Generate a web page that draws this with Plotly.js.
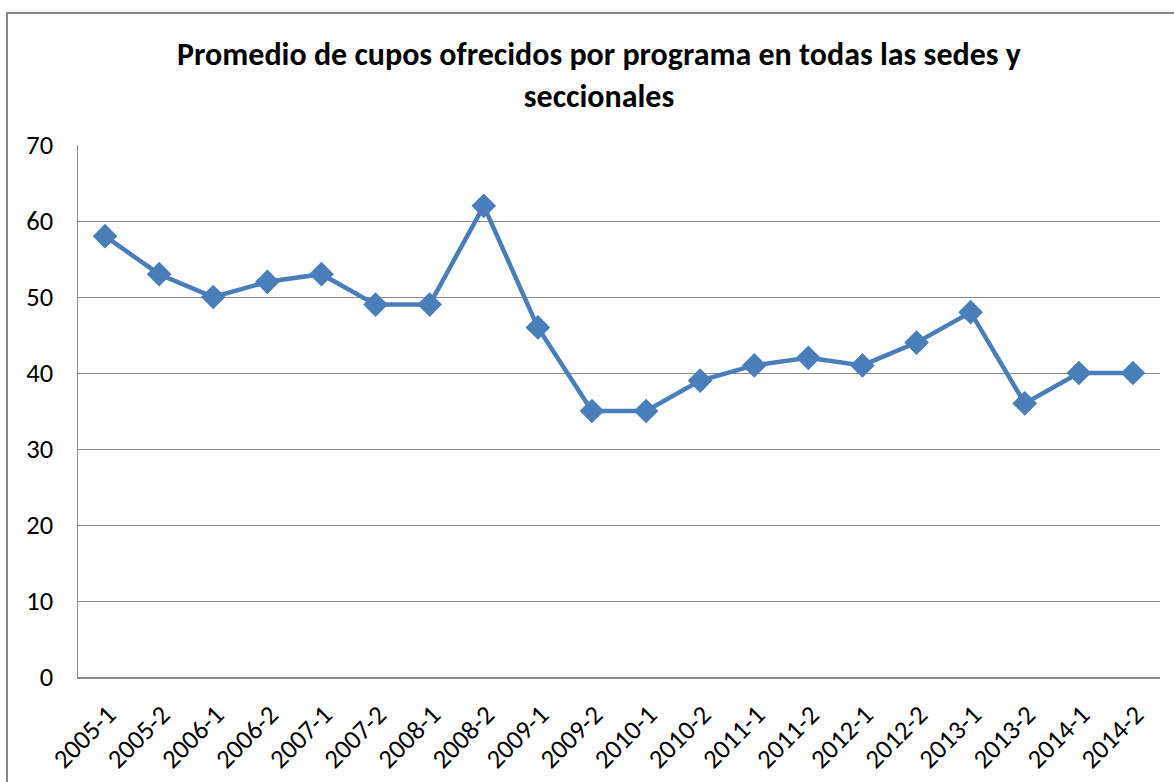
<!DOCTYPE html>
<html><head><meta charset="utf-8">
<script src="https://cdn.plot.ly/plotly-3.0.1.min.js"></script>
<style>html,body{margin:0;padding:0;background:#fff;}#chart{width:1174px;height:782px;}</style>
</head><body><div id="chart"></div>
<script>
const categories = ["2005-1","2005-2","2006-1","2006-2","2007-1","2007-2","2008-1","2008-2","2009-1","2009-2","2010-1","2010-2","2011-1","2011-2","2012-1","2012-2","2013-1","2013-2","2014-1","2014-2"];
const cupos = [58,53,50,52,53,49,49,62,46,35,35,39,41,42,41,44,48,36,40,40];
const yTicks = [0,10,20,30,40,50,60,70];

const L=78, R=14, T=145, B=105, W=1174, H=782;
const pw = W-L-R, ph = H-T-B;
const px = x => (x-L)/pw;
const py = y => (H-B-y)/ph;

const trace = {
  x: categories, y: cupos, type: 'scatter', mode: 'lines+markers',
  line: {color: '#4A7EBB', width: 4.5},
  marker: {symbol: 'diamond', size: 19, color: '#4A7EBB'},
  hoverinfo: 'x+y'
};
const layout = {
  width: W, height: H,
  margin: {l: L, r: R, t: T, b: B, pad: 0},
  paper_bgcolor: '#fff', plot_bgcolor: '#fff',
  showlegend: false,
  font: {family: 'Carlito, Calibri, Lato, sans-serif', color: '#000'},
  title: {
    text: '<b>Promedio de cupos ofrecidos por programa en todas las sedes y<br>seccionales</b>',
    font: {size: 32, family: 'Carlito, Calibri, Lato, sans-serif', color: '#000'},
    x: px(599), xref: 'paper', xanchor: 'center',
    y: 1-(65/H), yref: 'container', yanchor: 'middle'
  },
  xaxis: {
    type: 'category', tickvals: categories, ticktext: categories,
    tickangle: -45, tickfont: {size: 26.5}, showgrid: false,
    showline: true, linecolor: '#8c8c8c', linewidth: 1.5,
    ticks: '', zeroline: false, range: [-0.5, categories.length-0.5],
    ticklabelstandoff: 10, ticklabelshift: 3
  },
  yaxis: {
    range: [0,70], tickvals: yTicks, tickfont: {size: 26.5},
    showgrid: true, gridcolor: '#8c8c8c', gridwidth: 1,
    showline: true, linecolor: '#8c8c8c', linewidth: 1.5,
    ticks: 'outside', ticklen: 18, tickcolor: 'rgba(0,0,0,0)', zeroline: false
  },
  shapes: [{
    type: 'rect', xref: 'paper', yref: 'paper',
    x0: px(7), x1: px(1190), y0: py(800), y1: py(13),
    line: {color: '#878787', width: 2}, fillcolor: 'rgba(0,0,0,0)', layer: 'below'
  }]
};
Plotly.newPlot('chart', [trace], layout, {displayModeBar: false, staticPlot: true});
</script></body></html>
